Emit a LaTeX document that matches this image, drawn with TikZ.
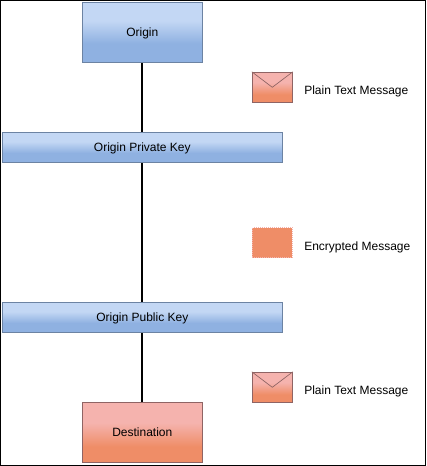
\documentclass[tikz,border=0pt]{standalone}
\usepackage{fontspec}
\setmainfont{Liberation Sans}
\definecolor{bluetop}{HTML}{C3D7F4}
\definecolor{bluebot}{HTML}{8FB1E1}
\definecolor{blueedge}{HTML}{6C83A3}
\definecolor{redtop}{HTML}{F5B3AE}
\definecolor{redbot}{HTML}{EF8D67}
\definecolor{rededge}{HTML}{8F6464}
\pgfdeclareverticalshading{blueramp}{100bp}{color(0bp)=(bluebot); color(41bp)=(bluebot); color(60bp)=(bluetop); color(100bp)=(bluetop)}
\pgfdeclareverticalshading{redramp}{100bp}{color(0bp)=(redbot); color(38bp)=(redbot); color(58bp)=(redtop); color(100bp)=(redtop)}
\tikzset{
  x=0.75pt,y=-0.75pt,
  bluebox/.style={draw=blueedge,line width=0.75pt,shading=blueramp,inner sep=0pt,text height=6pt,text depth=0pt,font=\fontsize{9}{11}\selectfont,text=black},
  redbox/.style={draw=rededge,line width=0.75pt,shading=redramp,inner sep=0pt,text height=6pt,text depth=0pt,font=\fontsize{9}{11}\selectfont,text=black},
  label/.style={anchor=west,inner sep=0pt,font=\fontsize{9}{11}\selectfont,text=black},
  link/.style={draw=black,line width=1.5pt},
  flap/.style={draw=rededge,line width=0.5pt},
}
\begin{document}
\begin{tikzpicture}
\useasboundingbox (0,0) rectangle (426,466);
\draw[black,line width=1.1pt] (0.7,0.7) rectangle (425.3,465.3);
\node[bluebox,minimum width=90pt,minimum height=45pt] (origin) at (142.3,32.6) {Origin};
\node[bluebox,minimum width=210pt,minimum height=22.5pt] (priv) at (142.3,147.6) {Origin Private Key};
\node[bluebox,minimum width=210pt,minimum height=22.5pt] (pub) at (142.3,317.6) {Origin Public Key};
\node[redbox,minimum width=90pt,minimum height=45pt] (dest) at (142.3,432.4) {Destination};
\draw[link] (origin) -- (priv);
\draw[link] (priv) -- (pub);
\draw[link] (pub) -- (dest);
\node[redbox,minimum width=30pt,minimum height=22.5pt] (env1) at (272.3,87.3) {};
\draw[flap] (env1.north west) -- (env1.center) -- (env1.north east);
\node[label] (t1) at (304,91.3) {Plain Text Message};
\node[draw=redtop,densely dotted,line width=0.5pt,fill=redbot,minimum width=30pt,minimum height=22.5pt,inner sep=0pt] (env2) at (272.3,242.5) {};
\node[label] (t2) at (304,247.3) {Encrypted Message};
\node[redbox,minimum width=30pt,minimum height=22.5pt] (env3) at (272.3,387.3) {};
\draw[flap] (env3.north west) -- (env3.center) -- (env3.north east);
\node[label] (t3) at (304,391.3) {Plain Text Message};
\end{tikzpicture}
\end{document}
